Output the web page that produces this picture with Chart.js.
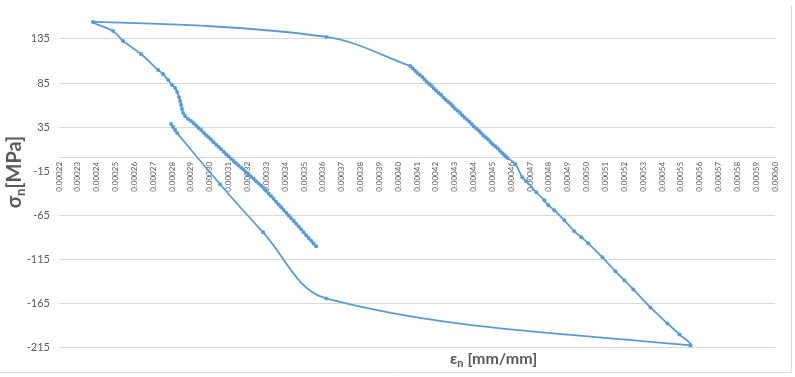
<!DOCTYPE html>
<html>
<head>
<meta charset="utf-8">
<script src="https://cdn.jsdelivr.net/npm/chart.js@4.4.1/dist/chart.umd.min.js"></script>
<style>
  html, body { margin: 0; padding: 0; background: #fff; }
  #wrap { position: relative; width: 795px; height: 377px; }
</style>
</head>
<body>
<div id="wrap"><canvas id="chart" width="795" height="377"></canvas></div>
<script>
const startBranch = [
    [0.0002795, 38.4], [0.0002805, 35.0], [0.0002816, 31.6], [0.0002827, 28.2],
    [0.0003055, -29.8], [0.0003283, -84.3], [0.0003618, -159.3], [0.0005551, -212.7]
]
const unloadBranch = [
    [0.0005493, -200.2], [0.0005429, -187.7], [0.0005339, -169.5], [0.0005248, -149.1],
    [0.0005201, -138.9], [0.0005153, -128.6], [0.0005084, -112.7], [0.0005009, -96.8],
    [0.0004972, -90.0], [0.0004935, -83.2], [0.0004882, -70.7], [0.0004829, -59.3],
    [0.0004797, -53.6], [0.0004776, -48.0], [0.0004733, -38.9], [0.0004680, -26.4],
    [0.0004659, -21.8], [0.0004622, -7.0]
]
const tensionBranch = [
    [0.0004580, 0.0], [0.0004572, 1.7], [0.0004565, 3.1], [0.0004553, 5.4],
    [0.0004540, 8.1], [0.0004528, 10.9], [0.0004515, 13.2], [0.0004502, 15.5],
    [0.0004490, 18.2], [0.0004478, 21.0], [0.0004465, 23.3], [0.0004452, 25.6],
    [0.0004440, 28.3], [0.0004428, 31.1], [0.0004415, 33.4], [0.0004402, 35.7],
    [0.0004390, 38.4], [0.0004378, 41.2], [0.0004365, 43.5], [0.0004352, 45.8],
    [0.0004340, 48.5], [0.0004328, 51.3], [0.0004315, 53.6], [0.0004302, 55.9],
    [0.0004290, 58.6], [0.0004278, 61.4], [0.0004265, 63.7], [0.0004252, 66.0],
    [0.0004240, 68.7], [0.0004228, 71.5], [0.0004215, 73.8], [0.0004202, 76.2],
    [0.0004190, 78.9], [0.0004178, 81.6], [0.0004165, 83.9], [0.0004152, 86.3],
    [0.0004140, 89.0], [0.0004128, 91.7], [0.0004115, 94.0], [0.0004102, 96.3],
    [0.0004090, 99.0], [0.0004077, 101.9], [0.0004064, 104.3]
]
const peakBranch = [
    [0.0003618, 137.3], [0.0002381, 154.3], [0.0002487, 144.1], [0.0002540, 132.7],
    [0.0002635, 118.0], [0.0002726, 99.8], [0.0002752, 95.2], [0.0002779, 88.4],
    [0.0002800, 82.7], [0.0002816, 79.3], [0.0002827, 74.8], [0.0002837, 69.1],
    [0.0002843, 64.5], [0.0002848, 60.0], [0.0002853, 55.5], [0.0002859, 50.9],
    [0.0002869, 47.5], [0.0002885, 44.1], [0.0002901, 41.8]
]
const reloadBranch = [
    [0.0002915, 39.3], [0.0002928, 36.7], [0.0002941, 34.0], [0.0002954, 31.6],
    [0.0002968, 28.6], [0.0002981, 25.9], [0.0002994, 23.5], [0.0003007, 20.8],
    [0.0003020, 17.8], [0.0003034, 15.1], [0.0003047, 12.7], [0.0003060, 10.0],
    [0.0003074, 7.0], [0.0003087, 4.3], [0.0003100, 1.8], [0.0003113, -0.8],
    [0.0003127, -3.5], [0.0003140, -5.9], [0.0003153, -8.6], [0.0003167, -11.0],
    [0.0003180, -13.4], [0.0003193, -16.1], [0.0003207, -18.9], [0.0003220, -21.3],
    [0.0003233, -23.7], [0.0003246, -26.4], [0.0003260, -29.1], [0.0003273, -31.5],
    [0.0003286, -34.2], [0.0003299, -37.2], [0.0003313, -40.5], [0.0003326, -43.4],
    [0.0003339, -46.4], [0.0003352, -49.7], [0.0003366, -52.9], [0.0003379, -55.9],
    [0.0003392, -59.1], [0.0003406, -62.2], [0.0003419, -65.2], [0.0003432, -68.4],
    [0.0003446, -71.6], [0.0003459, -74.7], [0.0003472, -77.7], [0.0003485, -80.9],
    [0.0003498, -84.4], [0.0003512, -87.7], [0.0003525, -90.7], [0.0003538, -94.0],
    [0.0003551, -97.0], [0.0003565, -100.2]
]

const xTicks = [
    0.00022, 0.00023, 0.00024, 0.00025, 0.00026, 0.00027, 0.00028, 0.00029, 0.00030, 0.00031,
    0.00032, 0.00033, 0.00034, 0.00035, 0.00036, 0.00037, 0.00038, 0.00039, 0.00040, 0.00041,
    0.00042, 0.00043, 0.00044, 0.00045, 0.00046, 0.00047, 0.00048, 0.00049, 0.00050, 0.00051,
    0.00052, 0.00053, 0.00054, 0.00055, 0.00056, 0.00057, 0.00058, 0.00059, 0.00060
]
const yTicks = [-215, -165, -115, -65, -15, 35, 85, 135]

const textGray = '#595959'
const gridGray = '#d9d9d9'
const lineBlue = '#5b9bd5'

const loop = [...startBranch, ...unloadBranch, ...tensionBranch, ...peakBranch, ...reloadBranch]

// draws pieces of text one after another (used for the subscripts)
const drawParts = (ctx, parts, x, y) => {
    let cx = x
    parts.forEach(p => {
        ctx.font = p.font
        ctx.fillText(p.text, cx, y + (p.dy || 0))
        cx += ctx.measureText(p.text).width
    })
}
const partsWidth = (ctx, parts) => parts.reduce((w, p) => {
    ctx.font = p.font
    return w + ctx.measureText(p.text).width
}, 0)

const axisTitlesPlugin = {
    id: 'axisTitles',
    afterDraw: (chart) => {
        const { ctx } = chart
        ctx.save()
        ctx.fillStyle = textGray
        ctx.textAlign = 'left'
        ctx.textBaseline = 'alphabetic'

        // x title
        drawParts(ctx, [
            { text: 'ε', font: 'bold 16px Lato' },
            { text: 'n', font: 'bold 11px Lato', dy: 3 },
            { text: ' [mm/mm]', font: 'bold 16px Lato' }
        ], 450, 364)

        // y title, rotated
        const yParts = [
            { text: 'σ', font: 'bold 20px Lato' },
            { text: 'n', font: 'bold 13px Lato', dy: 4 },
            { text: '[MPa]', font: 'bold 20px Lato' }
        ]
        ctx.translate(7, 172)
        ctx.rotate(-Math.PI / 2)
        drawParts(ctx, yParts, -partsWidth(ctx, yParts) / 2, 14)
        ctx.restore()

        // chart frame (only the right and bottom edges show)
        ctx.save()
        ctx.strokeStyle = gridGray
        ctx.lineWidth = 1
        ctx.beginPath()
        ctx.moveTo(791.5, 5)
        ctx.lineTo(791.5, 372.5)
        ctx.lineTo(0, 372.5)
        ctx.stroke()
        ctx.restore()
    }
}

new Chart(document.getElementById('chart').getContext('2d'), {
    type: 'scatter',
    data: {
        datasets: [{
            label: 'σn',
            data: loop.map(([x, y]) => ({ x, y })),
            showLine: true,
            borderColor: lineBlue,
            backgroundColor: lineBlue,
            borderWidth: 1.8,
            pointRadius: 2,
            pointBorderWidth: 0,
            tension: 0.35
        }]
    },
    options: {
        responsive: false,
        animation: false,
        layout: { padding: { left: 0, right: 20, top: 12.5, bottom: 29.5 } },
        plugins: {
            legend: { display: false },
            tooltip: { enabled: false }
        },
        scales: {
            x: {
                type: 'linear',
                position: { y: 0 },
                min: 0.00022,
                max: 0.00060,
                afterBuildTicks: (scale) => { scale.ticks = xTicks.map(v => ({ value: v })) },
                grid: { display: false, drawTicks: false },
                border: { display: true, color: gridGray },
                ticks: {
                    autoSkip: false,
                    minRotation: 90,
                    maxRotation: 90,
                    padding: 4,
                    color: textGray,
                    font: { family: 'Lato', size: 8 },
                    callback: (value) => Number(value).toFixed(5)
                }
            },
            y: {
                min: -215,
                max: 165,
                afterBuildTicks: (scale) => { scale.ticks = yTicks.map(v => ({ value: v })) },
                afterFit: (scale) => {
                    // keep the plot box fixed by the layout padding alone
                    scale.width = 59
                    scale.paddingTop = 0
                    scale.paddingBottom = 0
                },
                grid: {
                    drawTicks: false,
                    color: (c) => (c.tick && c.tick.value === -15) ? 'rgba(0,0,0,0)' : gridGray
                },
                border: { display: false },
                ticks: {
                    padding: 9,
                    color: textGray,
                    font: { family: 'Lato', size: 11 }
                }
            }
        }
    },
    plugins: [axisTitlesPlugin]
})
</script>
</body>
</html>
